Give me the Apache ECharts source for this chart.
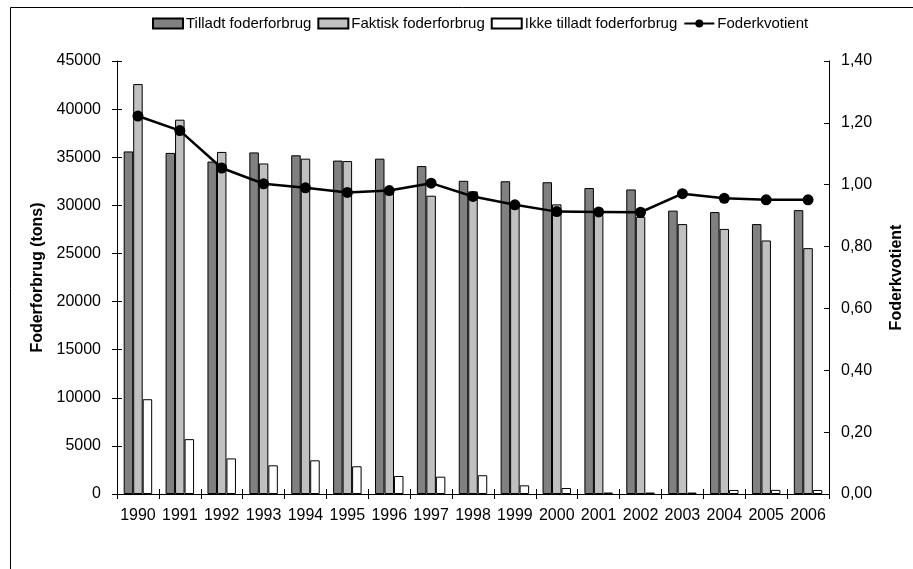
<!DOCTYPE html>
<html><head><meta charset="utf-8">
<script src="https://cdn.jsdelivr.net/npm/echarts@6/dist/echarts.min.js"></script>
<style>html,body{margin:0;padding:0;background:#fff}#c{width:913px;height:569px}</style>
</head><body><div id="c"></div>
<script>
const years = ['1990','1991','1992','1993','1994','1995','1996','1997','1998','1999','2000','2001','2002','2003','2004','2005','2006'];
const tilladt = [35600,35450,34550,35500,35200,34650,34850,34080,32550,32500,32400,31800,31650,29450,29300,28050,29500];
const faktisk = [42600,38900,35550,34350,34850,34600,31400,31000,31450,29900,30100,29000,28800,28050,27550,26350,25550];
const ikke = [9850,5700,3700,2980,3500,2880,1870,1800,1950,900,620,150,150,150,420,430,420];
const kvotient = [1.222,1.175,1.054,1.003,0.990,0.975,0.981,1.005,0.962,0.935,0.913,0.912,0.911,0.971,0.956,0.951,0.951];

const font = 'Liberation Sans, Arial, sans-serif';
const chart = echarts.init(document.getElementById('c'));
const barBorder = {borderColor:'#000', borderWidth:1};
chart.setOption({
  animation:false,
  graphic:[{type:'rect', shape:{x:10.5,y:7.5,width:1000,height:1000}, style:{fill:'none',stroke:'#000',lineWidth:1}, silent:true}],
  legend:{top:11, left:147, itemWidth:30, itemHeight:10, itemGap:6,
    textStyle:{fontFamily:font, fontSize:15, color:'#000', padding:[0,0,0,-2]},
    data:[{name:'Tilladt foderforbrug', icon:'rect'},{name:'Faktisk foderforbrug', icon:'rect'},{name:'Ikke tilladt foderforbrug', icon:'rect'},{name:'Foderkvotient'}]},
  grid:{left:117, right:82, top:61, bottom:75, containLabel:false},
  xAxis:[{type:'category', data:years, position:'bottom',
    axisLine:{lineStyle:{color:'#000', width:1}},
    axisTick:{show:true, length:5, lineStyle:{color:'#000'}},
    axisLabel:{fontFamily:font, fontSize:16, color:'#000', margin:14, interval:0}},
   {type:'category', data:years, position:'bottom', offset:0,
    axisLine:{show:false}, axisTick:{show:true, inside:true, length:5, lineStyle:{color:'#000'}},
    axisLabel:{show:false}}],
  yAxis:[{type:'value', min:0, max:45000, interval:5000, position:'left',
     name:'Foderforbrug (tons)', nameLocation:'middle', nameGap:61, nameRotate:90,
     nameTextStyle:{fontFamily:font, fontSize:16, fontWeight:'bold', color:'#000'},
     axisLine:{show:true, lineStyle:{color:'#000'}},
     axisTick:{show:true, length:5, lineStyle:{color:'#000'}},
     axisLabel:{fontFamily:font, fontSize:16, color:'#000', margin:16, formatter:v=>String(v)},
     splitLine:{show:false}},
    {type:'value', min:0, max:1.4, interval:0.2, position:'right',
     name:'Foderkvotient', nameLocation:'middle', nameGap:60, nameRotate:90,
     nameTextStyle:{fontFamily:font, fontSize:16, fontWeight:'bold', color:'#000'},
     axisLine:{show:true, lineStyle:{color:'#000'}},
     axisTick:{show:true, inside:true, length:5, lineStyle:{color:'#000'}},
     axisLabel:{fontFamily:font, fontSize:16, color:'#000', margin:12, formatter:v=>v.toFixed(2).replace('.',',')},
     splitLine:{show:false}},
    {type:'value', min:0, max:45000, interval:5000, position:'left', offset:0,
     axisLine:{show:false}, axisTick:{show:true, inside:true, length:5, lineStyle:{color:'#000'}},
     axisLabel:{show:false}, splitLine:{show:false}}],
  series:[
    {name:'Tilladt foderforbrug', type:'bar', data:tilladt, barGap:'0%', barCategoryGap:'32%', itemStyle:Object.assign({color:'#808080'},barBorder)},
    {name:'Faktisk foderforbrug', type:'bar', data:faktisk, barGap:'0%', barCategoryGap:'32%', itemStyle:Object.assign({color:'#c0c0c0'},barBorder)},
    {name:'Ikke tilladt foderforbrug', type:'bar', data:ikke, barGap:'0%', barCategoryGap:'32%', itemStyle:Object.assign({color:'#ffffff'},barBorder)},
    {name:'Foderkvotient', type:'line', yAxisIndex:1, data:kvotient, symbol:'circle', symbolSize:11,
     lineStyle:{color:'#000', width:2.5}, itemStyle:{color:'#000'}, z:5}
  ]
});
</script></body></html>
